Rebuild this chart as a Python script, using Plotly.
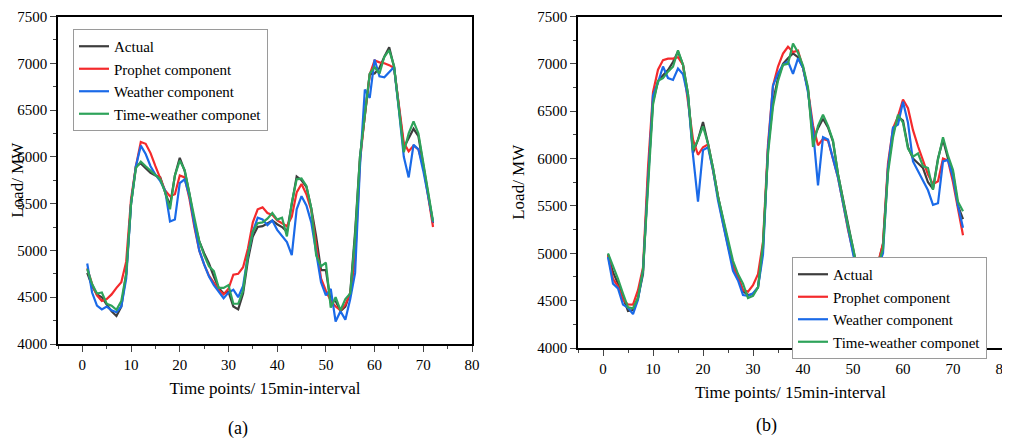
import plotly.graph_objects as go
from plotly.subplots import make_subplots

# time points 1..72 (15 min interval)
t = list(range(1, 73))

series_names = ['Actual', 'Prophet component', 'Weather component', 'Time-weather componet']

# panel (a)
actual_a = [4760, 4620, 4530, 4500, 4420, 4350, 4300, 4400, 4750, 5500,
            5900, 5930, 5880, 5830, 5800, 5780, 5620, 5480, 5800, 5990,
            5850, 5600, 5300, 5100, 4970, 4860, 4720, 4600, 4540, 4560,
            4400, 4370, 4540, 4900, 5150, 5250, 5260, 5290, 5320, 5280,
            5250, 5200, 5500, 5790, 5750, 5680, 5450, 5150, 4790, 4790,
            4450, 4460, 4350, 4400, 4550, 5200, 6000, 6450, 6880, 6890,
            6950, 7070, 7170, 6960, 6500, 6100, 6200, 6300, 6220, 5900, 5600, 5290]
prophet_a = [4810, 4640, 4520, 4460, 4480, 4530, 4600, 4660, 4880, 5550,
             5900, 6160, 6140, 6040, 5900, 5760, 5640, 5580, 5600, 5800,
             5780, 5550, 5250, 5000, 4850, 4730, 4650, 4580, 4530, 4590,
             4740, 4750, 4820, 5020, 5300, 5440, 5460, 5400, 5380, 5320,
             5290, 5260, 5360, 5620, 5710, 5600, 5430, 5050, 4700, 4570,
             4460, 4400, 4360, 4420, 4540, 4900, 5950, 6450, 6880, 7030,
             7010, 7000, 6980, 6950, 6550, 6150, 6060, 6120, 6080, 5900, 5580, 5250]
weather_a = [4860, 4550, 4410, 4370, 4400, 4360, 4340, 4400, 4700, 5500,
             5900, 6120, 6030, 5900, 5810, 5740, 5640, 5310, 5330, 5720,
             5760, 5580, 5280, 5000, 4850, 4720, 4630, 4560, 4490, 4550,
             4580, 4500, 4620, 4950, 5200, 5350, 5330, 5270, 5320, 5220,
             5160, 5090, 4950, 5440, 5580, 5480, 5300, 5000, 4660, 4520,
             4590, 4240, 4350, 4260, 4480, 4760, 5900, 6720, 6630, 7040,
             6860, 6850, 6900, 6960, 6500, 6000, 5780, 6130, 6080, 5850, 5580, 5300]
timeweather_a = [4800, 4640, 4540, 4550, 4430, 4410, 4365, 4460, 4750, 5500,
                 5880, 5950, 5900, 5850, 5800, 5760, 5620, 5440, 5800, 5960,
                 5860, 5620, 5350, 5100, 4950, 4830, 4780, 4600, 4600, 4630,
                 4430, 4430, 4570, 4950, 5200, 5290, 5300, 5340, 5400, 5330,
                 5350, 5150, 5510, 5760, 5770, 5690, 5450, 4950, 4830, 4870,
                 4390, 4500, 4360, 4480, 4540, 5150, 6000, 6450, 6890, 6960,
                 6890, 7070, 7140, 6970, 6500, 6050, 6250, 6380, 6250, 5950, 5620, 5310]

# panel (b)
actual_b = [4990, 4800, 4680, 4540, 4390, 4400, 4530, 4780, 5800, 6600,
            6820, 6880, 6935, 7020, 7130, 6990, 6680, 6060, 6200, 6385,
            6160, 5900, 5600, 5360, 5120, 4870, 4760, 4600, 4560, 4570,
            4640, 5050, 6100, 6600, 6850, 7000, 7060, 7110, 7070, 6960,
            6730, 6200, 6320, 6420, 6330, 6180, 5835, 5560, 5290, 5050,
            4800, 4650, 4600, 4700, 4880, 5100, 5900, 6270, 6440, 6400,
            6120, 6000, 5950, 5900, 5750, 5680, 6000, 6200, 6000, 5850, 5500, 5360]
prophet_b = [4980, 4730, 4650, 4510, 4460, 4458, 4610, 4850, 5900, 6700,
             6938, 7040, 7055, 7055, 7070, 6990, 6600, 6200, 6040, 6120,
             6150, 5880, 5570, 5320, 5080, 4865, 4740, 4610, 4595, 4663,
             4780, 5120, 6150, 6770, 6972, 7108, 7180, 7125, 7140, 6960,
             6720, 6350, 6140, 6208, 6190, 6000, 5800, 5530, 5250, 5020,
             4780, 4620, 4580, 4700, 4900, 5100, 5950, 6320, 6446, 6623,
             6532, 6300, 6130, 5980, 5830, 5730, 5760, 6000, 5980, 5750, 5450, 5190]
weather_b = [4960, 4680, 4630, 4458, 4425, 4357, 4510, 4815, 5750, 6667,
             6803, 6972, 6850, 6830, 6950, 6890, 6650, 6037, 5545, 6090,
             6120, 5880, 5560, 5300, 5050, 4815, 4713, 4560, 4550, 4578,
             4640, 4985, 6100, 6770, 6900, 6990, 7025, 6895, 7058, 6960,
             6700, 6300, 5716, 6225, 6200, 6000, 5800, 5530, 5250, 5000,
             4750, 4600, 4560, 4680, 4850, 5000, 5900, 6327, 6360, 6600,
             6378, 5970, 5868, 5766, 5665, 5512, 5528, 5970, 5986, 5800, 5500, 5270]
timeweather_b = [5000, 4870, 4730, 4575, 4430, 4420, 4530, 4820, 5750, 6570,
                 6820, 6850, 6918, 6970, 7143, 6990, 6680, 6088, 6200, 6340,
                 6157, 5900, 5600, 5370, 5130, 4920, 4780, 4680, 4527, 4550,
                 4640, 5100, 6050, 6550, 6820, 6990, 7000, 7215, 7120, 6980,
                 6750, 6123, 6345, 6463, 6345, 6190, 5835, 5563, 5290, 5060,
                 4800, 4650, 4600, 4700, 4880, 5050, 5850, 6225, 6463, 6378,
                 6106, 6020, 6055, 5920, 5900, 5670, 5990, 6225, 6030, 5880, 5545, 5443]

colors = ['#3d3d3d', '#f42a2c', '#1a6ae8', '#2ea35a']
FONT = 'Liberation Serif, Times New Roman, serif'

fig = make_subplots(rows=1, cols=2)

panel_a = [actual_a, prophet_a, weather_a, timeweather_a]
panel_b = [actual_b, prophet_b, weather_b, timeweather_b]

for name, ys, c in zip(series_names, panel_a, colors):
    fig.add_trace(go.Scatter(x=t, y=ys, name=name, mode='lines',
                             line=dict(color=c, width=2.2), legend='legend'), row=1, col=1)

for name, ys, c in zip(series_names, panel_b, colors):
    fig.add_trace(go.Scatter(x=t, y=ys, name=name, mode='lines',
                             line=dict(color=c, width=2.2), legend='legend2'), row=1, col=2)

xax = dict(range=[-5, 80], dtick=10, tick0=0, ticks='outside', ticklen=6, tickwidth=1.2,
           minor=dict(dtick=5, ticks='outside', ticklen=3.5, tickwidth=1.2),
           showline=True, linecolor='black', linewidth=1.5, mirror=True,
           showgrid=False, zeroline=False, ticklabeloverflow='allow',
           tickfont=dict(family=FONT, size=15, color='black'),
           title=dict(text='Time points/ 15min-interval', standoff=10,
                      font=dict(family=FONT, size=17, color='black')))
yax = dict(range=[4000, 7500], dtick=500, ticks='outside', ticklen=6, tickwidth=1.2,
           minor=dict(dtick=250, ticks='outside', ticklen=3.5, tickwidth=1.2),
           showline=True, linecolor='black', linewidth=1.5, mirror=True,
           showgrid=False, zeroline=False, ticklabeloverflow='allow',
           tickfont=dict(family=FONT, size=15, color='black'),
           title=dict(text='Load/ MW', standoff=8,
                      font=dict(family=FONT, size=17, color='black')))

fig.update_xaxes(**xax)
fig.update_yaxes(**yax)

# the page body has an 8px margin, so the figure is sized/positioned to fit the window
W, H = 1002, 431
OFF = 8
legend_style = dict(xanchor='left', yanchor='top',
                    bgcolor='white', bordercolor='#9a9a9a', borderwidth=1,
                    font=dict(family=FONT, size=15, color='black'),
                    tracegroupgap=0, itemwidth=30)
fig.update_layout(
    width=W, height=H,
    margin=dict(l=0, r=0, t=0, b=0, autoexpand=False),
    font=dict(family=FONT, color='black'),
    plot_bgcolor='white', paper_bgcolor='white',
    xaxis=dict(domain=[(58 - OFF) / W, (472 - OFF) / W]),
    yaxis=dict(domain=[1 - (344 - OFF) / H, 1 - 8.5 / H]),
    xaxis2=dict(domain=[(578 - OFF) / W, (1003 - OFF) / W]),
    yaxis2=dict(domain=[1 - (348 - OFF) / H, 1 - 8.5 / H]),
    legend=dict(x=(73 - OFF) / W, y=1 - (29 - OFF) / H, **legend_style),
    legend2=dict(x=(792 - OFF) / W, y=1 - (257 - OFF) / H, **legend_style),
    showlegend=True,
    annotations=[
        dict(text='(a)', x=(238 - OFF) / W, y=1 - (428 - OFF) / H, xref='paper', yref='paper',
             xanchor='center', yanchor='middle',
             showarrow=False, font=dict(family=FONT, size=18, color='black')),
        dict(text='(b)', x=(766 - OFF) / W, y=1 - (425 - OFF) / H, xref='paper', yref='paper',
             xanchor='center', yanchor='middle',
             showarrow=False, font=dict(family=FONT, size=18, color='black')),
    ],
)

fig.write_html("out.html")
